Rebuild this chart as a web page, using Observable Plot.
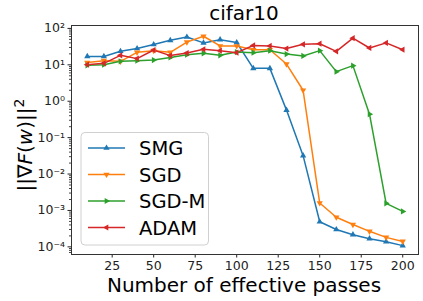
<!DOCTYPE html>
<html>
<head>
<meta charset="utf-8">
<script src="https://cdn.jsdelivr.net/npm/d3@7"></script>
<script src="https://cdn.jsdelivr.net/npm/@observablehq/plot@0.6"></script>
<style>
  html, body { margin: 0; padding: 0; background: #fff; }
  #chart svg { display: block; font-family: "DejaVu Sans", sans-serif; }
</style>
</head>
<body>
<div id="chart"></div>
<script>
const passes = [10, 20, 30, 40, 50, 60, 70, 80, 90, 100, 110, 120, 130, 140, 150, 160, 170, 180, 190, 200];
const seriesNames = ["SMG", "SGD", "SGD-M", "ADAM"];
const seriesColors = ["#1f77b4", "#ff7f0e", "#2ca02c", "#d62728"];
const smg = [17, 17, 23.5, 28, 36, 47, 58, 40, 49, 41, 8.0, 8.0, 0.57, 0.032, 4.9e-4, 3.0e-4, 2.16e-4, 1.68e-4, 1.39e-4, 1.08e-4];
const sgd = [11.5, 13, 12.5, 22, 24.5, 22, 42, 61, 33, 33, 26, 26, 10.5, 2.0, 1.6e-3, 6.5e-4, 4.1e-4, 2.67e-4, 1.82e-4, 1.41e-4];
const sgdm = [9.7, 10.1, 12.5, 13, 13.5, 16, 19, 20.7, 18.2, 22.4, 21.6, 24.5, 19.8, 17.5, 24.5, 6.5, 9.5, 0.44, 1.57e-3, 9.4e-4];
const adam = [10.1, 11, 18.2, 14.8, 25.5, 17.9, 21, 26.7, 24.5, 21.6, 34, 33, 28, 36.5, 38, 23.5, 54, 29, 40, 26];
const xTicks = [25, 50, 75, 100, 125, 150, 175, 200];
const yMajorTicks = [1e-4, 1e-3, 1e-2, 1e-1, 1, 10, 100];
const yMajorLabels = ["10⁻⁴", "10⁻³", "10⁻²", "10⁻¹", "10⁰", "10¹", "10²"];
const titleText = "cifar10";
const xLabelText = "Number of effective passes";

const allSeries = [smg, sgd, sgdm, adam];
const data = [];
seriesNames.forEach((name, i) => {
  passes.forEach((p, j) => data.push({series: name, pass: p, value: allSeries[i][j]}));
});

const minorTicks = [];
for (let e = -5; e <= 2; e++) for (let m = 2; m <= 9; m++) minorTicks.push(m * 10 ** e);

function tri(angle) {
  return {
    draw(ctx, size) {
      const r = Math.sqrt(size / Math.PI) * 1.2;
      for (let k = 0; k < 3; k++) {
        const a = angle + k * 2 * Math.PI / 3;
        const px = r * Math.sin(a), py = -r * Math.cos(a);
        if (k === 0) ctx.moveTo(px, py); else ctx.lineTo(px, py);
      }
      ctx.closePath();
    }
  };
}
const symUp = tri(0), symDown = tri(Math.PI), symRight = tri(Math.PI / 2), symLeft = tri(-Math.PI / 2);
const seriesSymbols = [symUp, symDown, symRight, symLeft];

const yDomain = [10 ** -4.21, 10 ** 2.08];
const fmtY = v => yMajorLabels[yMajorTicks.indexOf(v)];

const chart = Plot.plot({
  width: 423,
  height: 301,
  marginLeft: 71,
  marginRight: 5,
  marginTop: 25,
  marginBottom: 47,
  style: {fontFamily: "DejaVu Sans, sans-serif", background: "#fff"},
  x: {domain: [0.5, 209.5]},
  y: {type: "log", domain: yDomain},
  color: {domain: seriesNames, range: seriesColors},
  symbol: {domain: seriesNames, range: seriesSymbols},
  marks: [
    Plot.axisX({ticks: xTicks, tickSize: 3.5, tickPadding: 3, fontSize: 12.5, label: null, color: "#222"}),
    Plot.axisY({ticks: yMajorTicks, tickFormat: fmtY, tickSize: 3.5, tickPadding: 3, fontSize: 12.5, label: null, color: "#222"}),
    Plot.axisY({ticks: minorTicks.filter(v => v > yDomain[0] && v < yDomain[1]), tickFormat: () => "", tickSize: 2, label: null, color: "#444"}),
    Plot.line(data, {x: "pass", y: "value", z: "series", stroke: "series", strokeWidth: 1.5}),
    Plot.dot(data, {x: "pass", y: "value", symbol: "series", fill: "series", stroke: "none", r: 3}),
    Plot.frame({stroke: "#333", strokeWidth: 1})
  ]
});
document.getElementById("chart").append(chart);

const svg = d3.select(chart);
// title
svg.append("text").attr("x", 244).attr("y", 20).attr("text-anchor", "middle")
  .attr("font-size", 20).attr("fill", "#000").text(titleText);
// x label
svg.append("text").attr("x", 244).attr("y", 292).attr("text-anchor", "middle")
  .attr("font-size", 20).attr("fill", "#000").text(xLabelText);
// y label
const yl = svg.append("text").attr("transform", "translate(32,145) rotate(-90)")
  .attr("text-anchor", "middle").attr("font-size", 20).attr("fill", "#000");
yl.append("tspan").text("||∇");
yl.append("tspan").attr("font-style", "italic").text("F");
yl.append("tspan").text("(");
yl.append("tspan").attr("font-style", "italic").text("w");
yl.append("tspan").text(")||");
yl.append("tspan").attr("font-size", 14).attr("dy", -8).text("2");

// legend
const lg = svg.append("g");
lg.append("rect").attr("x", 81).attr("y", 132.5).attr("width", 127.5).attr("height", 112.5)
  .attr("rx", 4).attr("fill", "#fff").attr("fill-opacity", 0.8).attr("stroke", "#d0d0d0").attr("stroke-width", 1);
const sym = d3.symbol().size(Math.PI * 9);
seriesNames.forEach((name, i) => {
  const cy = 148 + i * 26.5;
  lg.append("line").attr("x1", 88).attr("x2", 125).attr("y1", cy).attr("y2", cy)
    .attr("stroke", seriesColors[i]).attr("stroke-width", 1.5);
  lg.append("path").attr("d", sym.type(seriesSymbols[i])()).attr("transform", `translate(106.5,${cy})`)
    .attr("fill", seriesColors[i]);
  lg.append("text").attr("x", 139).attr("y", cy).attr("dy", "0.36em").attr("font-size", 19.5)
    .attr("text-anchor", "start").attr("fill", "#000").text(name);
});
</script>
</body>
</html>
